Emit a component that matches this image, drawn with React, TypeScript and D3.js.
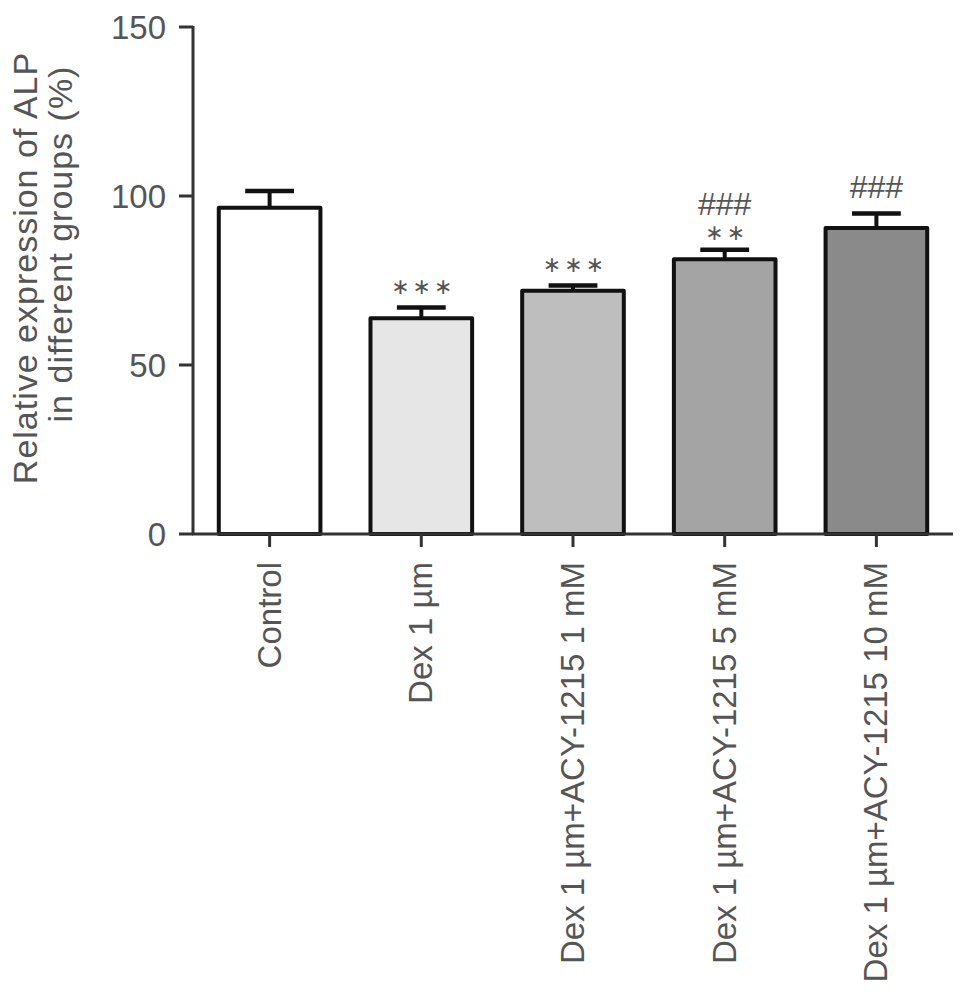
import React from "react";
import * as d3 from "d3";

const categories = [
  "Control",
  "Dex 1 µm",
  "Dex 1 µm+ACY-1215 1 mM",
  "Dex 1 µm+ACY-1215 5 mM",
  "Dex 1 µm+ACY-1215 10 mM",
];
const means = [96.5, 63.8, 72, 81.3, 90.5];
const errors = [5, 3.2, 1.5, 2.8, 4.3];
const fills = ["#ffffff", "#e6e6e6", "#bebebe", "#a4a4a4", "#8a8a8a"];
const starMarks = ["", "***", "***", "**", ""];
const hashMarks = ["", "", "", "###", "###"];
const yTicks = [0, 50, 100, 150];

export default function App() {
  const width = 969;
  const height = 1003;
  const x0 = 193;
  const x1 = 953;
  const yTop = 27;
  const yBottom = 534;

  const y = d3.scaleLinear().domain([0, 150]).range([yBottom, yTop]);
  const x = d3
    .scaleBand<string>()
    .domain(categories)
    .range([x0, x1])
    .paddingInner(0.33)
    .paddingOuter(0.17);
  const bw = x.bandwidth();
  const font = "'Liberation Sans', Arial, sans-serif";
  const textColor = "#555";
  const fs = 33;

  return (
    <svg
      width={width}
      height={height}
      style={{ position: "absolute", left: 0, top: 0, background: "#fff" }}
      fontFamily={font}
    >
      {/* bars */}
      {categories.map((c, i) => {
        const bx = x(c)!;
        const cx = bx + bw / 2;
        const top = y(means[i]);
        const capY = y(means[i] + errors[i]);
        const starCenter = capY - (starMarks[i].length === 2 ? 17 : 21);
        return (
          <g key={c}>
            <line x1={cx} x2={cx} y1={top} y2={capY} stroke="#111" strokeWidth={4} />
            <line x1={cx - bw * 0.24} x2={cx + bw * 0.24} y1={capY} y2={capY} stroke="#111" strokeWidth={4.5} />
            <rect
              x={bx}
              y={top}
              width={bw}
              height={yBottom - top}
              fill={fills[i]}
              stroke="#111"
              strokeWidth={4}
              strokeLinejoin="round"
            />
            {starMarks[i] && (
              <text
                x={cx + 2}
                y={starCenter + 7}
                textAnchor="middle"
                fontSize={22}
                fontFamily="'DejaVu Sans', sans-serif"
                fill={textColor}
                letterSpacing={3}
              >
                {starMarks[i].replace(/\*/g, "\u2217")}
              </text>
            )}
            {hashMarks[i] && (
              <text
                x={cx}
                y={starMarks[i] ? starCenter - 18 : capY - 16}
                textAnchor="middle"
                fontSize={32}
                fill={textColor}
              >
                {hashMarks[i]}
              </text>
            )}
          </g>
        );
      })}

      {/* y axis */}
      <line x1={x0} x2={x0} y1={yTop - 1} y2={yBottom + 1} stroke="#333" strokeWidth={3} />
      {yTicks.map((t) => (
        <g key={t}>
          <line x1={x0 - 14} x2={x0} y1={y(t)} y2={y(t)} stroke="#333" strokeWidth={3} />
          <text
            x={x0 - 27}
            y={y(t)}
            dy="0.36em"
            textAnchor="end"
            fontSize={fs}
            fill={textColor}
          >
            {t}
          </text>
        </g>
      ))}

      {/* x axis */}
      <line x1={x0 - 1} x2={x1} y1={yBottom} y2={yBottom} stroke="#333" strokeWidth={3} />
      {categories.map((c) => {
        const cx = x(c)! + bw / 2;
        return (
          <g key={c}>
            <line x1={cx} x2={cx} y1={yBottom} y2={yBottom + 13} stroke="#333" strokeWidth={3} />
            <text
              transform={`translate(${cx + 11},${yBottom + 28}) rotate(-90)`}
              textAnchor="end"
              fontSize={fs}
              fill={textColor}
            >
              {c}
            </text>
          </g>
        );
      })}

      {/* y label */}
      <text
        transform={`translate(37,268) rotate(-90)`}
        textAnchor="middle"
        fontSize={34}
        letterSpacing={1}
        fill={textColor}
      >
        Relative expression of ALP
      </text>
      <text
        transform={`translate(72,244) rotate(-90)`}
        textAnchor="middle"
        fontSize={34}
        letterSpacing={1}
        fill={textColor}
      >
        in different groups (%)
      </text>
    </svg>
  );
}
